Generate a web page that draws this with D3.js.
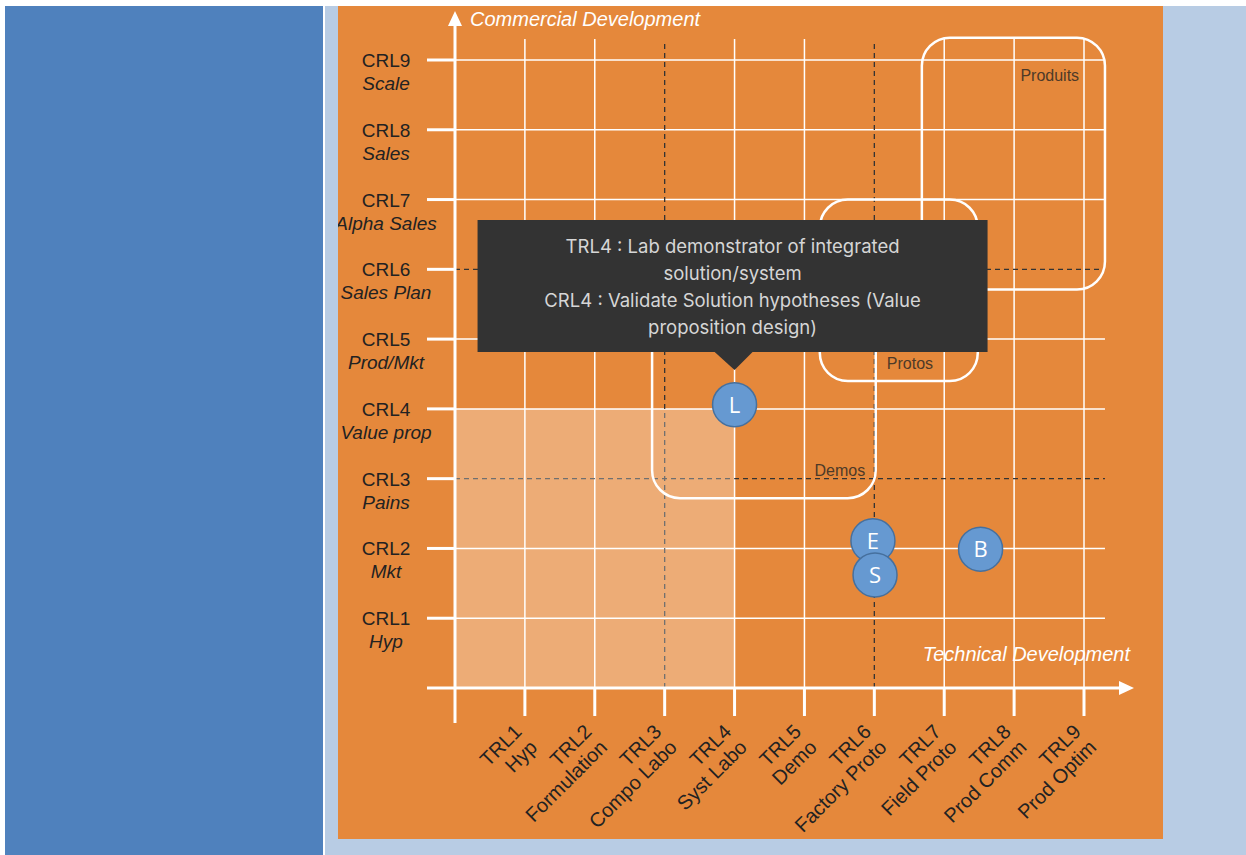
<!DOCTYPE html>
<html>
<head>
<meta charset="utf-8">
<script src="https://cdn.jsdelivr.net/npm/d3@7"></script>
<style>
  body { margin: 0; background: #fff; }
  svg { display: block; }
</style>
</head>
<body>
<svg id="chart" width="1246" height="855"></svg>
<script>
// CRL levels (y) and TRL levels (x)
const crlCodes  = ["CRL1", "CRL2", "CRL3", "CRL4", "CRL5", "CRL6", "CRL7", "CRL8", "CRL9"];
const crlNames  = ["Hyp", "Mkt", "Pains", "Value prop", "Prod/Mkt", "Sales Plan", "Alpha Sales", "Sales", "Scale"];
const trlCodes  = ["TRL1", "TRL2", "TRL3", "TRL4", "TRL5", "TRL6", "TRL7", "TRL8", "TRL9"];
const trlNames  = ["Hyp", "Formulation", "Compo Labo", "Syst Labo", "Demo", "Factory Proto", "Field Proto", "Prod Comm", "Prod Optim"];
const dashedTrl = [3, 6];
const dashedCrl = [3, 6];

// zones (in TRL / CRL units)
const zoneNames = ["Demos", "Protos", "Produits"];
const zoneTrl   = [[2.82, 6.02], [5.22, 7.48], [6.68, 9.3]];
const zoneCrl   = [[2.72, 5.6], [4.4, 7.0], [5.71, 9.32]];

// projects
const projectIds  = ["L", "E", "S", "B"];
const projectTrl  = [4.0, 5.98, 6.01, 7.52];
const projectCrl  = [4.06, 2.11, 1.62, 1.99];

const tooltipLines = [
    "TRL4 : Lab demonstrator of integrated",
    "solution/system",
    "CRL4 : Validate Solution hypotheses (Value",
    "proposition design)"
];

const orange = "#e5883b";
const svg = d3.select("#chart");

// page panels
svg.append("rect").attr("x", 5).attr("y", 6).attr("width", 318).attr("height", 849).attr("fill", "#4f81bd");
svg.append("rect").attr("x", 325).attr("y", 6).attr("width", 921).attr("height", 849).attr("fill", "#b8cce4");
svg.append("rect").attr("x", 338).attr("y", 6).attr("width", 825).attr("height", 833).attr("fill", orange);

svg.append("clipPath").attr("id", "panelClip")
    .append("rect").attr("x", 338).attr("y", 6).attr("width", 825).attr("height", 833);

const x = d3.scaleLinear().domain([0, 9]).range([455, 1084]);
const y = d3.scaleLinear().domain([0, 9]).range([688, 60]);
const gridMax = 9.3;

const g = svg.append("g");

// white grid
g.selectAll(".hgrid")
    .data(d3.range(1, 10).filter(d => !dashedCrl.includes(d)))
    .enter().append("line")
    .attr("x1", x(0)).attr("x2", x(gridMax))
    .attr("y1", d => y(d)).attr("y2", d => y(d))
    .attr("stroke", "#fff").attr("stroke-width", 1.5);

g.selectAll(".vgrid")
    .data(d3.range(1, 10).filter(d => !dashedTrl.includes(d)))
    .enter().append("line")
    .attr("y1", y(0)).attr("y2", y(gridMax))
    .attr("x1", d => x(d)).attr("x2", d => x(d))
    .attr("stroke", "#fff").attr("stroke-width", 1.5);

// dashed reference lines
g.selectAll(".hdash")
    .data(dashedCrl)
    .enter().append("line")
    .attr("x1", x(0)).attr("x2", x(gridMax))
    .attr("y1", d => y(d)).attr("y2", d => y(d))
    .attr("stroke", "#333").attr("stroke-width", 1.3)
    .attr("stroke-dasharray", "5,4");

g.selectAll(".vdash")
    .data(dashedTrl)
    .enter().append("line")
    .attr("y1", y(0)).attr("y2", y(gridMax) + 5)
    .attr("x1", d => x(d)).attr("x2", d => x(d))
    .attr("stroke", "#333").attr("stroke-width", 1.3)
    .attr("stroke-dasharray", "5,4");

// highlighted area up to TRL4 / CRL4
g.append("rect")
    .attr("x", x(0)).attr("y", y(4))
    .attr("width", x(4) - x(0)).attr("height", y(0) - y(4))
    .attr("fill", "#fff").attr("opacity", 0.3);

// zones
zoneNames.forEach((name, i) => {
    const [x0, x1] = zoneTrl[i];
    const [y0, y1] = zoneCrl[i];
    g.append("rect")
        .attr("x", x(x0)).attr("y", y(y1))
        .attr("width", x(x1) - x(x0)).attr("height", y(y0) - y(y1))
        .attr("rx", 28).attr("ry", 28)
        .attr("fill", "none").attr("stroke", "#fff").attr("stroke-width", 2.5);
});

const labelFont = "'Liberation Sans', Arial, Helvetica, sans-serif";

// zone labels
g.append("text").attr("x", x(5.87)).attr("y", y(3.04))
    .attr("text-anchor", "end").attr("font-family", labelFont).attr("font-size", 16)
    .attr("fill", "#4e3a28").text(zoneNames[0]);
g.append("text").attr("x", x(6.84)).attr("y", y(4.57))
    .attr("text-anchor", "end").attr("font-family", labelFont).attr("font-size", 16)
    .attr("fill", "#4e3a28").text(zoneNames[1]);
g.append("text").attr("x", x(8.93)).attr("y", y(8.7))
    .attr("text-anchor", "end").attr("font-family", labelFont).attr("font-size", 16)
    .attr("fill", "#4e3a28").text(zoneNames[2]);

// axes
const axisG = svg.append("g").attr("clip-path", "url(#panelClip)");
axisG.append("line")
    .attr("x1", x(0)).attr("x2", x(0))
    .attr("y1", y(0) + 35).attr("y2", 22)
    .attr("stroke", "#fff").attr("stroke-width", 3);
axisG.append("path")
    .attr("d", `M${x(0) - 7},${26} L${x(0)},${11} L${x(0) + 7},${26} Z`)
    .attr("fill", "#fff");
axisG.append("line")
    .attr("x1", x(0) - 28).attr("x2", 1122)
    .attr("y1", y(0)).attr("y2", y(0))
    .attr("stroke", "#fff").attr("stroke-width", 3);
axisG.append("path")
    .attr("d", `M1119,${y(0) - 7} L1134,${y(0)} L1119,${y(0) + 7} Z`)
    .attr("fill", "#fff");

// y ticks
axisG.selectAll(".ytick")
    .data(d3.range(1, 10))
    .enter().append("line")
    .attr("x1", x(0) - 28).attr("x2", x(0))
    .attr("y1", d => y(d)).attr("y2", d => y(d))
    .attr("stroke", "#fff").attr("stroke-width", 3);

// x ticks
axisG.selectAll(".xtick")
    .data(d3.range(1, 10))
    .enter().append("line")
    .attr("x1", d => x(d)).attr("x2", d => x(d))
    .attr("y1", y(0)).attr("y2", y(0) + 28)
    .attr("stroke", "#fff").attr("stroke-width", 3);

// axis titles
axisG.append("text")
    .attr("x", 470).attr("y", 26)
    .attr("font-family", labelFont).attr("font-size", 20).attr("font-style", "italic")
    .attr("fill", "#fff").text("Commercial Development");
axisG.append("text")
    .attr("x", 1130).attr("y", 661)
    .attr("text-anchor", "end")
    .attr("font-family", labelFont).attr("font-size", 20).attr("font-style", "italic")
    .attr("fill", "#fff").text("Technical Development");

// y labels
const yLab = axisG.selectAll(".ylab")
    .data(d3.range(9))
    .enter().append("text")
    .attr("x", 386).attr("y", i => y(i + 1) + 7)
    .attr("text-anchor", "middle")
    .attr("font-family", labelFont).attr("font-size", 19)
    .attr("fill", "#222");
yLab.append("tspan").text(i => crlCodes[i]);
yLab.append("tspan").attr("x", 386).attr("dy", 23)
    .attr("font-style", "italic").text(i => crlNames[i]);

// x labels (rotated)
const xLab = axisG.selectAll(".xlab")
    .data(d3.range(9))
    .enter().append("text")
    .attr("transform", i => `translate(${x(i + 1) - 2},${y(0) + 45}) rotate(-45)`)
    .attr("text-anchor", "end")
    .attr("font-family", labelFont).attr("font-size", 20)
    .attr("fill", "#222");
xLab.append("tspan").attr("x", 0).text(i => trlCodes[i]);
xLab.append("tspan").attr("x", 0).attr("dy", 22).text(i => trlNames[i]);

// projects
const pts = svg.append("g").selectAll(".pt")
    .data(d3.range(projectIds.length))
    .enter().append("g")
    .attr("transform", i => `translate(${x(projectTrl[i])},${y(projectCrl[i])})`);
pts.append("circle")
    .attr("r", 22)
    .attr("fill", "#6699d1").attr("stroke", "#46709e").attr("stroke-width", 1.5);
pts.append("text")
    .attr("text-anchor", "middle").attr("dy", 8)
    .attr("font-family", "'Open Sans', sans-serif").attr("font-size", 22)
    .attr("fill", "#fff").text(i => projectIds[i]);

// tooltip over L
const tx = x(projectTrl[0]) - 2;
const tip = svg.append("g");
tip.append("rect")
    .attr("x", tx - 255).attr("y", 220).attr("width", 510).attr("height", 132)
    .attr("fill", "#333333");
tip.append("path")
    .attr("d", `M${tx - 19},351 L${tx + 2},370 L${tx + 21},351 Z`)
    .attr("fill", "#333333");
tip.selectAll(".tl")
    .data(tooltipLines)
    .enter().append("text")
    .attr("x", tx).attr("y", (d, i) => 253 + i * 27)
    .attr("text-anchor", "middle")
    .attr("font-family", "Inter, 'Open Sans', sans-serif").attr("font-size", 18.5)
    .attr("fill", "#d6d6d6").text(d => d);
</script>
</body>
</html>
